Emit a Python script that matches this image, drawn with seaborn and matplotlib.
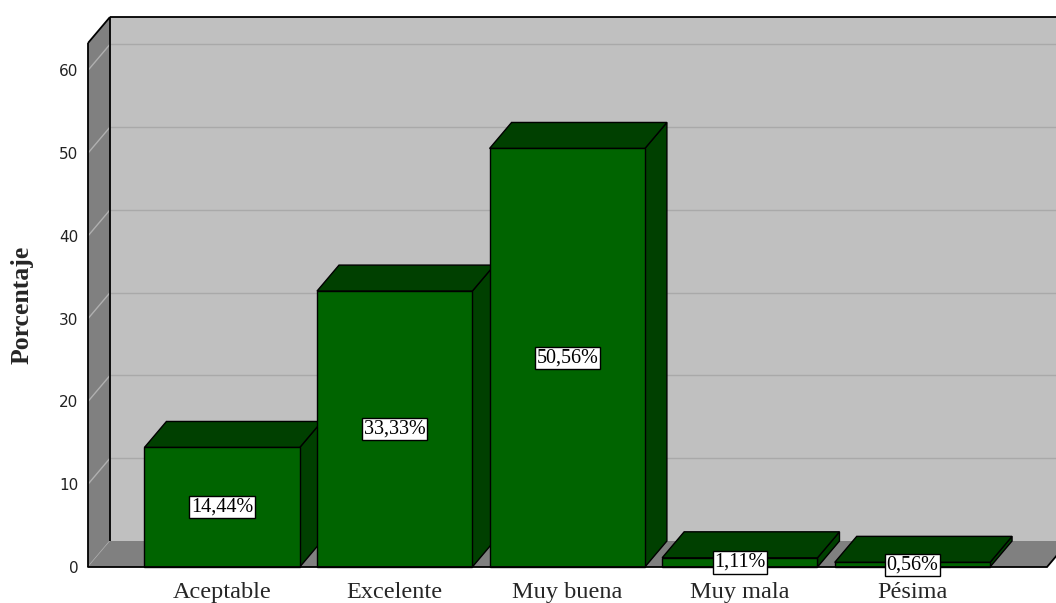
import matplotlib
matplotlib.use("Agg")
import matplotlib.pyplot as plt
from matplotlib.patches import Polygon
import numpy as np
import pandas as pd
import seaborn as sns

# Valoración del servicio (porcentaje de respuestas)
categorias = ["Aceptable", "Excelente", "Muy buena", "Muy mala", "Pésima"]
porcentajes = [14.44, 33.33, 50.56, 1.11, 0.56]
ticks_y = [0, 10, 20, 30, 40, 50, 60]

FRONT = "#006400"
SHADE = "#004000"
WALL_BACK = "#c0c0c0"
WALL_DARK = "#808080"
GRID_BACK = "#a9a9a9"
GRID_SIDE = "#b0b0b0"

sns.set_style("white")
plt.rcParams["font.family"] = ["DejaVu Sans"]

W, H = 1056, 603
fig = plt.figure(figsize=(W / 100, H / 100), dpi=100)
left_px, right_px, bottom_px, top_px = 88, 1047, 567, 43
ax = fig.add_axes([left_px / W, 1 - bottom_px / H,
                   (right_px - left_px) / W, (bottom_px - top_px) / H])

df = pd.DataFrame({"Valoración": categorias, "Porcentaje": porcentajes})
sns.barplot(data=df, x="Valoración", y="Porcentaje", color=FRONT,
            saturation=1, width=0.9, edgecolor="black", linewidth=1.0,
            errorbar=None, ax=ax)
bars = list(ax.patches)

x0, x1 = -0.777, 4.78
y0, y1 = 0, 63.3
ax.set_xlim(x0, x1)
ax.set_ylim(y0, y1)

# depth offset of the pseudo-3D box, in pixels -> data units
fig.canvas.draw()
p00 = ax.transData.transform((0, 0))
p11 = ax.transData.transform((1, 1))
ddx = 22 / (p11[0] - p00[0])
ddy = 26 / (p11[1] - p00[1])

def poly(pts, fc, z, ec="none", lw=0):
    ax.add_patch(Polygon(pts, closed=True, facecolor=fc, edgecolor=ec,
                         linewidth=lw, zorder=z, clip_on=False,
                         joinstyle="miter"))

xr = x1 + ddx * 2
# back wall, left wall and floor
poly([(x0 + ddx, ddy), (xr, ddy), (xr, y1 + ddy), (x0 + ddx, y1 + ddy)], WALL_BACK, 0.1)
poly([(x0, 0), (x0, y1), (x0 + ddx, y1 + ddy), (x0 + ddx, ddy)], WALL_DARK, 0.1)
poly([(x0, 0), (x1, 0), (x1 + ddx, ddy), (x0 + ddx, ddy)], WALL_DARK, 0.3)

for v in ticks_y[1:]:
    ax.plot([x0 + ddx, xr], [v + ddy, v + ddy], color=GRID_BACK, lw=1.0,
            zorder=0.2, clip_on=False, solid_capstyle="butt")
for v in ticks_y:
    ax.plot([x0, x0 + ddx], [v, v + ddy], color=GRID_SIDE, lw=1.0,
            zorder=0.2, clip_on=False, solid_capstyle="butt")

# frame edges
frame = dict(color="black", lw=1.3, zorder=1.0, clip_on=False,
             solid_capstyle="butt")
ax.plot([x0, x0], [0, y1], **frame)
ax.plot([x0, x0 + ddx], [y1, y1 + ddy], **frame)
ax.plot([x0 + ddx, xr], [y1 + ddy, y1 + ddy], **frame)
ax.plot([x0 + ddx, x0 + ddx], [ddy, y1 + ddy], **frame)
ax.plot([x0, x1], [0, 0], color="black", lw=1.3, zorder=30, clip_on=False)
ax.plot([x1, x1 + ddx], [0, ddy], **frame)

# top and side faces of each bar, painted left to right
for i, b in enumerate(bars):
    bx, bw, bh = b.get_x(), b.get_width(), b.get_height()
    z = 3 + 2 * i
    poly([(bx + bw, 0), (bx + bw, bh), (bx + bw + ddx, bh + ddy),
          (bx + bw + ddx, ddy)], SHADE, z, ec="black", lw=1.0)
    poly([(bx, bh), (bx + bw, bh), (bx + bw + ddx, bh + ddy),
          (bx + ddx, bh + ddy)], SHADE, z, ec="black", lw=1.0)
    b.set_zorder(z + 1)
    b.set_clip_on(False)

# value labels
for b, v in zip(bars, porcentajes):
    cx = b.get_x() + b.get_width() / 2
    txt = f"{v:.2f}".replace(".", ",") + "%"
    ax.text(cx, v / 2, txt, ha="center", va="center", fontsize=14.5,
            family=["Liberation Serif", "DejaVu Serif"], color="black",
            zorder=40,
            bbox=dict(boxstyle="square,pad=0.08", facecolor="white",
                      edgecolor="black", linewidth=1.0))

for s in ax.spines.values():
    s.set_visible(False)
ax.set_yticks(ticks_y)
ax.tick_params(axis="y", length=0, pad=7, labelsize=11, labelcolor="#222222")
ax.tick_params(axis="x", length=0, pad=11)
for lab in ax.get_xticklabels():
    lab.set_fontfamily(["Liberation Serif", "DejaVu Serif"])
    lab.set_fontsize(17.5)
ax.set_xlabel("")
ax.set_ylabel("Porcentaje", fontsize=18.5, fontweight="bold",
              family=["Liberation Serif", "DejaVu Serif"])
ax.yaxis.set_label_coords((22 - left_px) / (right_px - left_px), 0.5)
ax.yaxis.label.set_verticalalignment("center")

fig.savefig("out.png", dpi=100)
